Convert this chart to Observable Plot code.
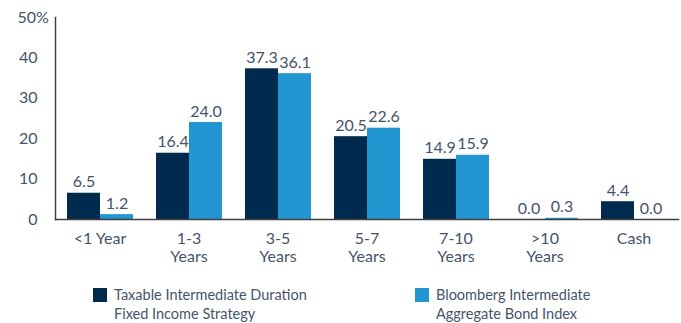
<!DOCTYPE html>
<html>
<head>
<meta charset="utf-8">
<script src="https://cdn.jsdelivr.net/npm/d3@7"></script>
<script src="https://cdn.jsdelivr.net/npm/@observablehq/plot@0.6"></script>
<style>
  body { margin: 0; background: #fff; font-family: Lato, "Open Sans", sans-serif; }
  #chart { width: 681px; }
  .legend { position: relative; height: 48px; margin-top: 10px; color: #44546a; font-size: 14.5px; line-height: 19px; }
  .legend .item { position: absolute; top: 0; display: flex; align-items: flex-start; }
  .legend .sw { width: 14px; height: 14px; margin-top: 3px; margin-right: 7px; flex: none; }
</style>
</head>
<body>
<div id="chart"></div>
<script>
const categories = ["<1 Year", "1-3\nYears", "3-5\nYears", "5-7\nYears", "7-10\nYears", ">10\nYears", "Cash"];
const seriesNames = ["Taxable Intermediate Duration\nFixed Income Strategy", "Bloomberg Intermediate\nAggregate Bond Index"];
const strategyValues = [6.5, 16.4, 37.3, 20.5, 14.9, 0.0, 4.4];
const indexValues = [1.2, 24.0, 36.1, 22.6, 15.9, 0.3, 0.0];
const yTicks = [0, 10, 20, 30, 40];
const yTopTick = [50];
const colors = ["#012a4f", "#2196d0"];

const data = [];
categories.forEach((c, i) => {
  data.push({category: c, series: seriesNames[0], value: strategyValues[i]});
  data.push({category: c, series: seriesNames[1], value: indexValues[i]});
});

const textColor = "#44546a";
const plot = Plot.plot({
  width: 681,
  height: 275,
  marginLeft: 55,
  marginRight: 3,
  marginTop: 17,
  marginBottom: 56,
  style: {fontFamily: "Lato, 'Open Sans', sans-serif", fontSize: "16px", color: textColor, background: "#fff"},
  fx: {domain: categories, paddingInner: 0, paddingOuter: 0, label: null},
  x: {domain: seriesNames, paddingInner: 0, paddingOuter: 0.31, axis: null},
  y: {domain: [0, 50], axis: null, label: null},
  color: {domain: seriesNames, range: colors},
  marks: [
    Plot.barY(data, {fx: "category", x: "series", y: "value", fill: "series"}),
    Plot.text(data, {fx: "category", x: "series", y: "value", text: d => d.value.toFixed(1),
      lineAnchor: "bottom", dy: -6, fill: textColor, fontSize: 16}),
    Plot.axisY({ticks: yTicks, tickSize: 0, tickPadding: 18, fill: textColor, fontSize: 16, label: null}),
    Plot.axisY({ticks: yTopTick, tickSize: 0, tickPadding: 38, textAnchor: "start", tickFormat: d => `${d}%`, fill: textColor, fontSize: 16, label: null}),
    Plot.axisFx({anchor: "bottom", tickSize: 0, tickPadding: 11, lineHeight: 1.15, fill: textColor, fontSize: 16, label: null}),
    Plot.frame({anchor: "bottom", facet: "super", stroke: "#404040", strokeWidth: 1.5}),
    Plot.frame({anchor: "left", facet: "super", stroke: "#404040", strokeWidth: 1.5})
  ]
});
document.getElementById("chart").appendChild(plot);

const legend = document.createElement("div");
legend.className = "legend";
const lefts = [93, 415];
seriesNames.forEach((s, i) => {
  const item = document.createElement("div");
  item.className = "item";
  item.style.left = lefts[i] + "px";
  const sw = document.createElement("div");
  sw.className = "sw";
  sw.style.background = colors[i];
  const label = document.createElement("div");
  label.innerHTML = s.split("\n").join("<br>");
  item.appendChild(sw);
  item.appendChild(label);
  legend.appendChild(item);
});
document.getElementById("chart").appendChild(legend);
</script>
</body>
</html>
